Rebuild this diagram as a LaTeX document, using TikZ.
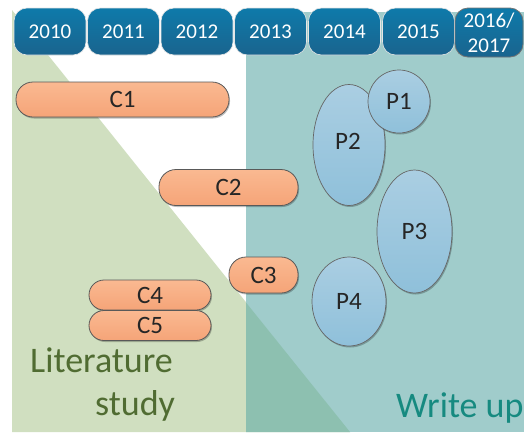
\documentclass[tikz,border=0pt]{standalone}
\usepackage{fontspec}
\setmainfont{Carlito}
\usetikzlibrary{shapes.geometric,shadows}
\definecolor{litgreen}{RGB}{208,223,192}
\definecolor{tealbg}{RGB}{160,204,203}
\definecolor{overlapc}{RGB}{141,192,176}
\definecolor{yeartop}{RGB}{14,122,170}
\definecolor{yearbot}{RGB}{26,100,142}
\definecolor{ctop}{RGB}{250,185,145}
\definecolor{cbot}{RGB}{245,164,120}
\definecolor{ptop}{RGB}{170,206,226}
\definecolor{pbot}{RGB}{143,192,218}
\definecolor{litc}{RGB}{80,108,50}
\definecolor{writec}{RGB}{22,138,128}
\tikzset{
  yearbox/.style={rounded corners=13pt, minimum width=72pt, minimum height=47pt,
    top color=yeartop, bottom color=yearbot, draw=white!80!gray, line width=0.6pt,
    text=white, font=\fontsize{21}{25}\selectfont, align=center, inner sep=0pt},
  cbox/.style={rounded corners=17pt, top color=ctop, bottom color=cbot,
    draw=black!65, line width=0.8pt, inner sep=0pt,
    font=\fontsize{25}{30}\selectfont, text=black!85,
    drop shadow={shadow xshift=1pt, shadow yshift=-1.5pt, opacity=0.25, fill=black}},
  pell/.style={ellipse, top color=ptop, bottom color=pbot,
    draw=black!60, line width=0.7pt, inner sep=0pt,
    font=\fontsize{25}{30}\selectfont, text=black!85,
    drop shadow={shadow xshift=1pt, shadow yshift=-1.5pt, opacity=0.25, fill=black}},
  bigtext/.style={font=\fontsize{36}{40}\selectfont, inner sep=0pt, anchor=base west}
}
\begin{document}
\begin{tikzpicture}[x=1pt,y=-1pt]
\useasboundingbox (0,0) rectangle (524,432);
\begin{scope}
\clip (0,0) rectangle (524,432);
% background regions
\fill[litgreen] (12,10) -- (350,432) -- (12,432) -- cycle;
\fill[tealbg] (246,12) rectangle (524,432);
\fill[overlapc] (246,302.5) -- (350,432) -- (246,432) -- cycle;
% big labels
\node[bigtext, text=litc] (lit1) at (30,372) {Literature};
\node[bigtext, text=litc] (lit2) at (95,415) {study};
\node[bigtext, text=writec] (wu) at (396,417) {Write up};
\end{scope}
% year boxes
\node[yearbox] (y2010) at (50,31.5) {2010};
\node[yearbox] (y2011) at (123.5,31.5) {2011};
\node[yearbox] (y2012) at (197,31.5) {2012};
\node[yearbox] (y2013) at (270.5,31.5) {2013};
\node[yearbox] (y2014) at (344.5,31.5) {2014};
\node[yearbox] (y2015) at (418.5,31.5) {2015};
\node[yearbox, minimum width=68pt, minimum height=49pt, draw=black!55, line width=0.8pt] (y2016) at (489,32.5) {2016/\\2017};
% C boxes
\node[cbox, minimum width=213pt, minimum height=35pt] (c1) at (122.5,99.5) {C1};
\node[cbox, minimum width=139pt, minimum height=36pt] (c2) at (228.5,187.5) {C2};
\node[cbox, minimum width=69pt, minimum height=36pt] (c3) at (263.5,275) {C3};
\node[cbox, rounded corners=15pt, minimum width=122pt, minimum height=30pt] (c4) at (150,295) {C4};
\node[cbox, rounded corners=15pt, minimum width=122pt, minimum height=30pt] (c5) at (150,325.5) {C5};
% P ellipses
\node[pell, minimum width=72pt, minimum height=121pt] (p2) at (349,145) {};
\node at (348,141) [font=\fontsize{25}{30}\selectfont, text=black!85] (p2t) {P2};
\node[pell, minimum width=62pt, minimum height=63pt] (p1) at (399,101.5) {P1};
\node[pell, minimum width=75pt, minimum height=123pt] (p3) at (414.5,231.5) {P3};
\node[pell, minimum width=74pt, minimum height=89pt] (p4) at (349,301.5) {P4};
\end{tikzpicture}
\end{document}
